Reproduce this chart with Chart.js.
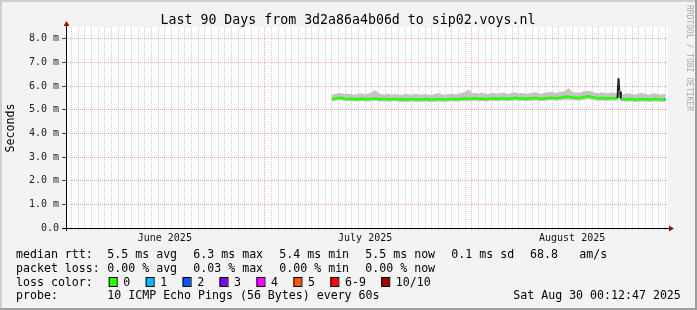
<!DOCTYPE html>
<html>
<head>
<meta charset="utf-8">
<title>SmokePing - sip02.voys.nl</title>
<script src="https://cdn.jsdelivr.net/npm/chart.js@4.4.1/dist/chart.umd.min.js"></script>
<style>
  html, body { margin: 0; padding: 0; background: #f3f3f3; }
  canvas { display: block; }
</style>
</head>
<body>
<canvas id="canvas" width="697" height="310"></canvas>
<script>
// sample times, in days since 1 June 2025 00:00
const days = [
  40, 40.5, 41, 41.5, 42, 42.5, 43, 43.5, 44, 44.5,
  45, 45.5, 46, 46.5, 47, 47.5, 48, 48.5, 49, 49.5,
  50, 50.5, 51, 51.5, 52, 52.5, 53, 53.5, 54, 54.5,
  55, 55.5, 56, 56.5, 57, 57.5, 58, 58.5, 59, 59.5,
  60, 60.5, 61, 61.5, 62, 62.5, 63, 63.5, 64, 64.5,
  65, 65.5, 66, 66.5, 67, 67.5, 68, 68.5, 69, 69.5,
  70, 70.5, 71, 71.5, 72, 72.5, 73, 73.5, 74, 74.5,
  75, 75.5, 76, 76.5, 77, 77.5, 78, 78.5, 79, 79.5,
  80, 80.5, 81, 81.5, 82, 82.5, 82.8, 82.95, 83.05, 83.2,
  83.3, 83.5, 84, 84.5, 85, 85.5, 86, 86.5, 87, 87.5,
  88, 88.5, 89, 89.5, 89.75, 90
];

// median rtt (ms)
const medianRtt = [
  5.44, 5.47, 5.51, 5.50, 5.47, 5.46, 5.47, 5.45, 5.46, 5.47,
  5.46, 5.45, 5.47, 5.48, 5.46, 5.45, 5.46, 5.44, 5.45, 5.46,
  5.44, 5.43, 5.44, 5.43, 5.45, 5.44, 5.43, 5.44, 5.45, 5.44,
  5.43, 5.44, 5.45, 5.44, 5.43, 5.45, 5.46, 5.44, 5.45, 5.47,
  5.48, 5.47, 5.48, 5.49, 5.47, 5.48, 5.46, 5.47, 5.49, 5.48,
  5.47, 5.49, 5.48, 5.47, 5.49, 5.50, 5.48, 5.49, 5.47, 5.48,
  5.49, 5.50, 5.48, 5.47, 5.49, 5.50, 5.51, 5.49, 5.50, 5.52,
  5.56, 5.55, 5.52, 5.51, 5.50, 5.52, 5.56, 5.57, 5.54, 5.51,
  5.49, 5.50, 5.48, 5.49, 5.50, 5.49, 5.50, 6.33, 5.79, 5.77,
  5.46, 5.45, 5.44, 5.45, 5.44, 5.43, 5.44, 5.45, 5.44, 5.43,
  5.44, 5.45, 5.44, 5.43, 5.44, 5.44
];

// slowest ping of each sample (top of the smoke)
const smokeMax = [
  5.63, 5.68, 5.72, 5.70, 5.66, 5.69, 5.66, 5.64, 5.68, 5.70,
  5.65, 5.69, 5.74, 5.84, 5.71, 5.66, 5.65, 5.69, 5.64, 5.67,
  5.65, 5.63, 5.68, 5.66, 5.64, 5.69, 5.65, 5.63, 5.67, 5.65,
  5.64, 5.68, 5.70, 5.65, 5.63, 5.67, 5.69, 5.65, 5.68, 5.72,
  5.75, 5.86, 5.70, 5.72, 5.68, 5.73, 5.69, 5.67, 5.72, 5.70,
  5.68, 5.73, 5.70, 5.67, 5.72, 5.74, 5.69, 5.72, 5.68, 5.70,
  5.71, 5.75, 5.69, 5.68, 5.73, 5.74, 5.76, 5.71, 5.74, 5.77,
  5.80, 5.92, 5.75, 5.73, 5.72, 5.77, 5.79, 5.80, 5.75, 5.72,
  5.70, 5.74, 5.69, 5.72, 5.73, 5.70, 5.71, 6.45, 6.05, 5.95,
  5.67, 5.65, 5.68, 5.70, 5.66, 5.65, 5.69, 5.71, 5.66, 5.65,
  5.68, 5.70, 5.66, 5.65, 5.68, 5.66
];

// fastest ping of each sample (bottom of the smoke)
const smokeMin = [
  5.36, 5.38, 5.40, 5.39, 5.37, 5.36, 5.37, 5.35, 5.36, 5.37,
  5.36, 5.35, 5.37, 5.38, 5.36, 5.35, 5.36, 5.34, 5.35, 5.36,
  5.34, 5.33, 5.34, 5.33, 5.35, 5.34, 5.33, 5.34, 5.35, 5.34,
  5.33, 5.34, 5.35, 5.34, 5.33, 5.35, 5.36, 5.34, 5.35, 5.37,
  5.37, 5.36, 5.37, 5.38, 5.36, 5.37, 5.35, 5.36, 5.38, 5.37,
  5.36, 5.38, 5.37, 5.36, 5.38, 5.39, 5.37, 5.38, 5.36, 5.37,
  5.38, 5.39, 5.37, 5.36, 5.38, 5.39, 5.40, 5.38, 5.39, 5.40,
  5.42, 5.41, 5.40, 5.39, 5.38, 5.40, 5.43, 5.44, 5.41, 5.39,
  5.38, 5.39, 5.37, 5.38, 5.39, 5.38, 5.39, 5.50, 5.50, 5.48,
  5.36, 5.35, 5.34, 5.35, 5.34, 5.33, 5.34, 5.35, 5.34, 5.33,
  5.34, 5.35, 5.34, 5.33, 5.34, 5.34
];

// samples that lost pings (day, number of lost pings)
const lossDays = [89.75];
const lossCounts = [1];

const yTickValues = [0, 1, 2, 3, 4, 5, 6, 7, 8];
const yTickLabels = ['0.0', '1.0 m', '2.0 m', '3.0 m', '4.0 m', '5.0 m', '6.0 m', '7.0 m', '8.0 m'];
const yMinorValues = [0.5, 1.5, 2.5, 3.5, 4.5, 5.5, 6.5, 7.5];

const monthStartDays = [30, 61];
const monthLabelDays = [15, 45, 76];
const monthLabels = ['June 2025', 'July 2025', 'August 2025'];

const lossColorLabels = ['0', '1', '2', '3', '4', '5', '6-9', '10/10'];
const lossColors = ['#26ff00', '#00b8ff', '#0059ff', '#7e00ff', '#ff00ff', '#ff5500', '#ff0000', '#a10000'];

const titleText = 'Last 90 Days from 3d2a86a4b06d to sip02.voys.nl';
const rttStats = ['5.5 ms avg', '6.3 ms max', '5.4 ms min', '5.5 ms now', '0.1 ms sd'];
const lossStats = ['0.00 % avg', '0.03 % max', '0.00 % min', '0.00 % now'];
const amsValue = '68.8';
const probeText = '10 ICMP Echo Pings (56 Bytes) every 60s';
const dateText = 'Sat Aug 30 00:12:47 2025';

const MONO = '"DejaVu Sans Mono", monospace';
const MAJOR_GRID = 'rgba(255, 0, 0, 0.33)';
const MINOR_GRID = 'rgba(120, 120, 120, 0.35)';

// every day gets a dotted grid line
const dayTicks = [];
for (let d = 1; d <= 90; d++) dayTicks.push(d);
const yGridValues = yTickValues.concat(yMinorValues).sort((a, b) => a - b);

function lossColorAt(day) {
  const i = lossDays.indexOf(day);
  return i < 0 ? lossColors[0] : lossColors[lossCounts[i]];
}

function isJump(c) {
  return Math.abs(c.p1.parsed.y - c.p0.parsed.y) > 0.25;
}

const points = arr => days.map((d, i) => ({ x: d, y: arr[i] }));

// background, frame, axes, legend text (rrdtool style)
const frame = {
  id: 'frame',
  beforeDraw(chart) {
    const { ctx, chartArea: a, width, height } = chart;
    ctx.save();
    ctx.fillStyle = '#f3f3f3';
    ctx.fillRect(0, 0, width, height);
    ctx.fillStyle = '#cfcfcf';
    ctx.fillRect(0, 0, width, 2);
    ctx.fillRect(0, 0, 2, height);
    ctx.fillStyle = '#9e9e9e';
    ctx.fillRect(0, height - 2, width, 2);
    ctx.fillRect(width - 2, 0, 2, height);
    ctx.fillStyle = '#ffffff';
    ctx.fillRect(a.left, a.top, a.right - a.left, a.bottom - a.top);
    ctx.restore();
  },
  afterDraw(chart) {
    const { ctx, chartArea: a } = chart;
    ctx.save();

    // axes with arrows
    ctx.strokeStyle = '#000';
    ctx.lineWidth = 1;
    ctx.beginPath();
    ctx.moveTo(a.left - 4, a.bottom + 0.5);
    ctx.lineTo(a.right + 2, a.bottom + 0.5);
    ctx.moveTo(a.left + 0.5, a.top - 2);
    ctx.lineTo(a.left + 0.5, a.bottom + 3);
    ctx.stroke();
    ctx.fillStyle = '#9b1010';
    ctx.beginPath();
    ctx.moveTo(a.right + 1, a.bottom - 2.5);
    ctx.lineTo(a.right + 6, a.bottom + 0.5);
    ctx.lineTo(a.right + 1, a.bottom + 3.5);
    ctx.fill();
    ctx.beginPath();
    ctx.moveTo(a.left - 2.5, a.top - 1);
    ctx.lineTo(a.left + 0.5, a.top - 6);
    ctx.lineTo(a.left + 3.5, a.top - 1);
    ctx.fill();

    // title
    ctx.fillStyle = '#000';
    ctx.font = '13.25px ' + MONO;
    ctx.textAlign = 'center';
    ctx.textBaseline = 'alphabetic';
    ctx.fillText(titleText, 348, 24);

    // y axis title
    ctx.font = '11.6px ' + MONO;
    ctx.save();
    ctx.translate(11, 128);
    ctx.rotate(-Math.PI / 2);
    ctx.textBaseline = 'middle';
    ctx.fillText('Seconds', 0, 0);
    ctx.restore();

    // watermark
    ctx.save();
    ctx.translate(689, 5);
    ctx.rotate(Math.PI / 2);
    ctx.font = '8px ' + MONO;
    ctx.fillStyle = '#a8a8a8';
    ctx.textAlign = 'left';
    ctx.textBaseline = 'middle';
    ctx.fillText('RRDTOOL / TOBI OETIKER', 0, 0);
    ctx.restore();

    // legend rows
    ctx.textAlign = 'left';
    ctx.textBaseline = 'alphabetic';
    ctx.font = '11.6px ' + MONO;
    const rows = [258, 272, 285.5, 299];
    const col0 = 16, col1 = 107.3, step = 86;

    ctx.fillText('median rtt:', col0, rows[0]);
    rttStats.forEach((s, i) => ctx.fillText(s, col1 + i * step, rows[0]));
    ctx.fillText(amsValue, 530, rows[0]);
    ctx.fillText('am/s', 579.3, rows[0]);

    ctx.fillText('packet loss:', col0, rows[1]);
    lossStats.forEach((s, i) => ctx.fillText(s, col1 + i * step, rows[1]));

    ctx.fillText('loss color:', col0, rows[2]);
    const charW = ctx.measureText('0').width;
    let x = 108.7;
    lossColorLabels.forEach((lbl, i) => {
      ctx.fillStyle = lossColors[i];
      ctx.fillRect(x, 277.5, 8, 9);
      ctx.strokeStyle = '#000';
      ctx.strokeRect(x + 0.5, 277.5, 8, 9);
      ctx.fillStyle = '#000';
      const tx = x + 14.6;
      ctx.fillText(lbl, tx, rows[2]);
      x = tx + ctx.measureText(lbl).width + 2 * charW + 1.4;
    });

    ctx.fillText('probe:', col0, rows[3]);
    ctx.fillText(probeText, col1, rows[3]);
    ctx.fillText(dateText, 513.3, rows[3]);

    ctx.restore();
  }
};

new Chart(document.getElementById('canvas'), {
  type: 'line',
  data: {
    datasets: [
      {
        label: 'median rtt',
        data: points(medianRtt),
        borderColor: lossColors[0],
        borderWidth: 2.5,
        borderCapStyle: 'butt',
        pointRadius: 0,
        fill: false,
        order: 0,
        segment: {
          borderColor: c => isJump(c) ? '#202020' : lossColorAt(c.p0.parsed.x),
          borderWidth: c => isJump(c) ? 2 : 2.5
        }
      },
      {
        label: 'smoke max',
        data: points(smokeMax),
        borderColor: 'rgba(0,0,0,0)',
        borderWidth: 0,
        backgroundColor: '#c4c4c4',
        pointRadius: 0,
        fill: '+1',
        order: 1
      },
      {
        label: 'smoke min',
        data: points(smokeMin),
        borderColor: 'rgba(0,0,0,0)',
        borderWidth: 0,
        pointRadius: 0,
        fill: false,
        order: 2
      }
    ]
  },
  options: {
    responsive: false,
    animation: false,
    events: [],
    layout: { padding: { left: 0, right: 29, top: 27, bottom: 62 } },
    plugins: {
      legend: { display: false },
      tooltip: { enabled: false },
      title: { display: false }
    },
    scales: {
      x: {
        type: 'linear',
        min: 0.2,
        max: 90.36,
        afterBuildTicks: s => { s.ticks = dayTicks.map(v => ({ value: v })); },
        afterFit: s => { s.height = 20; },
        border: { display: false, dash: [1, 1] },
        grid: {
          color: c => monthStartDays.includes(c.tick.value) ? MAJOR_GRID : MINOR_GRID,
          tickColor: c => monthStartDays.includes(c.tick.value) ? MAJOR_GRID : MINOR_GRID,
          tickLength: 2
        },
        ticks: {
          autoSkip: false,
          maxRotation: 0,
          padding: 2,
          color: '#111',
          font: { family: MONO, size: 10 },
          callback: v => {
            const i = monthLabelDays.indexOf(v);
            return i < 0 ? '' : monthLabels[i];
          }
        }
      },
      y: {
        min: 0,
        max: 8.5,
        afterBuildTicks: s => { s.ticks = yGridValues.map(v => ({ value: v })); },
        afterFit: s => { s.width = 66; },
        border: { display: false, dash: [1, 1] },
        grid: {
          color: c => yTickValues.includes(c.tick.value) ? MAJOR_GRID : MINOR_GRID,
          tickColor: c => yTickValues.includes(c.tick.value) ? '#444' : '#bbb',
          tickLength: 4
        },
        ticks: {
          padding: 3,
          color: '#222',
          font: { family: MONO, size: 10 },
          callback: v => {
            const i = yTickValues.indexOf(v);
            return i < 0 ? '' : yTickLabels[i];
          }
        }
      }
    }
  },
  plugins: [frame]
});
</script>
</body>
</html>
